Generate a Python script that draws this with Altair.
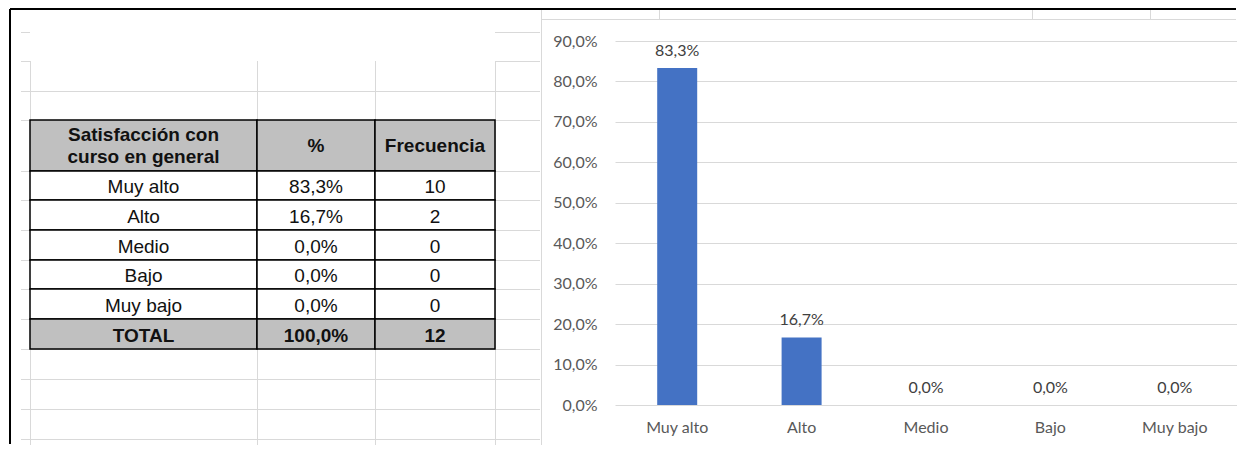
import altair as alt
import pandas as pd

# ---------------- data ----------------
categories = ["Muy alto", "Alto", "Medio", "Bajo", "Muy bajo"]
pct = [0.833, 0.167, 0.0, 0.0, 0.0]
freq = [10, 2, 0, 0, 0]
total_name = "TOTAL"
total_pct = 1.0
total_freq = 12
header = ["Satisfacción con\ncurso en general", "%", "Frecuencia"]
y_ticks = [0.0, 0.1, 0.2, 0.3, 0.4, 0.5, 0.6, 0.7, 0.8, 0.9]

# ---------------- layout (sheet coordinates, page pixels) ----------------
SHEET_X = [8, 541]
SHEET_Y = [42, 447]          # plot area of the sheet panel (aligned with chart plot top)
COL_EDGES = [30, 257, 375, 495]
ROW_EDGES = [121, 172, 201, 231, 261, 290, 320, 350]
GRID_H_PART = [33.5, 62.5]
GRID_H_FULL = [92.5, 121.5, 172.5, 201.5, 231.5, 261.5, 290.5, 320.5, 350.5, 380.5, 410.5, 440.5]
GRID_V = [30.5, 257.5, 375.5, 495.5]
GRID_COLOR = "#D9D9D9"
TABLE_FONT = "Liberation Sans"
CHART_FONT = "Lato"
LINE_H = 22


def fmt_pct(v):
    return f"{v * 100:.1f}".replace(".", ",") + "%"


# ---------------- left: spreadsheet with the table ----------------
rows_text = [header] + [[c, fmt_pct(p), str(f)] for c, p, f in zip(categories, pct, freq)] \
    + [[total_name, fmt_pct(total_pct), str(total_freq)]]
cells = []
nrows = len(rows_text)
for r, row in enumerate(rows_text):
    for c, txt in enumerate(row):
        special = r == 0 or r == nrows - 1
        nlines = txt.count("\n") + 1
        cells.append({
            "x0": COL_EDGES[c], "x1": COL_EDGES[c + 1],
            "y0": ROW_EDGES[r], "y1": ROW_EDGES[r + 1],
            "xc": (COL_EDGES[c] + COL_EDGES[c + 1]) / 2,
            "yc": (ROW_EDGES[r] + ROW_EDGES[r + 1]) / 2 + (0 if r == 0 else 1.5)
                  - (nlines - 1) * LINE_H / 2,
            "label": txt,
            "fill": "#C0C0C0" if special else "#FFFFFF",
            "bold": special,
        })
cells_df = pd.DataFrame(cells)

segs = []
for y in GRID_H_PART:
    segs.append({"x": 21, "x2": 30, "y": y, "y2": y})
    segs.append({"x": 495, "x2": 540, "y": y, "y2": y})
for y in GRID_H_FULL:
    segs.append({"x": 21, "x2": 540, "y": y, "y2": y})
for x in GRID_V:
    segs.append({"x": x, "x2": x, "y": 62, "y2": 446})
segs_df = pd.DataFrame(segs)

borders_df = pd.DataFrame([
    {"x": 10, "x2": 10, "y": 10, "y2": 445},
    {"x": 10, "x2": 541, "y": 10, "y2": 10},
])

xs = alt.Scale(domain=SHEET_X, nice=False, zero=False)
ys = alt.Scale(domain=SHEET_Y, nice=False, zero=False, reverse=True)

grid_layer = alt.Chart(segs_df).mark_rule(color=GRID_COLOR, strokeWidth=1).encode(
    x=alt.X("x:Q", scale=xs, axis=None), x2="x2:Q",
    y=alt.Y("y:Q", scale=ys, axis=None), y2="y2:Q")

border_layer = alt.Chart(borders_df).mark_rule(color="#000000", strokeWidth=2).encode(
    x=alt.X("x:Q", scale=xs, axis=None), x2="x2:Q",
    y=alt.Y("y:Q", scale=ys, axis=None), y2="y2:Q")

cell_layer = alt.Chart(cells_df).mark_rect(stroke="#000000", strokeWidth=1.5).encode(
    x=alt.X("x0:Q", scale=xs, axis=None), x2="x1:Q",
    y=alt.Y("y0:Q", scale=ys, axis=None), y2="y1:Q",
    fill=alt.Fill("fill:N", scale=None))

text_normal = alt.Chart(cells_df).transform_filter("!datum.bold").mark_text(
    font=TABLE_FONT, fontSize=19, color="#111111", baseline="middle", align="center"
).encode(x=alt.X("xc:Q", scale=xs, axis=None), y=alt.Y("yc:Q", scale=ys, axis=None), text="label:N")

text_bold = alt.Chart(cells_df).transform_filter("datum.bold").mark_text(
    font=TABLE_FONT, fontSize=19, fontWeight="bold", color="#111111", baseline="middle",
    align="center", lineBreak="\n", lineHeight=LINE_H
).encode(x=alt.X("xc:Q", scale=xs, axis=None), y=alt.Y("yc:Q", scale=ys, axis=None), text="label:N")

left = alt.layer(grid_layer, cell_layer, text_normal, text_bold, border_layer).properties(
    width=SHEET_X[1] - SHEET_X[0], height=SHEET_Y[1] - SHEET_Y[0])

# ---------------- right: Excel column chart ----------------
bars_df = pd.DataFrame({"cat": categories, "pct": pct})
PW, PH = 622, 364

xenc = alt.X("cat:N", sort=categories,
             scale=alt.Scale(paddingInner=0, paddingOuter=0),
             axis=alt.Axis(title=None, labelAngle=0, ticks=False, domain=False, grid=False,
                           labelPadding=14, labelFont=CHART_FONT, labelFontSize=16,
                           labelColor="#595959"))
yenc = alt.Y("pct:Q", scale=alt.Scale(domain=[0, 0.9], nice=False),
             axis=alt.Axis(title=None, values=y_ticks, ticks=False, domain=False,
                           labelExpr="replace(format(datum.value, '.1%'), '.', ',')",
                           labelPadding=18, labelFont=CHART_FONT, labelFontSize=16,
                           labelColor="#595959", gridColor=GRID_COLOR, gridWidth=1))

bars = alt.Chart(bars_df).mark_bar(size=40, color="#4472C4").encode(x=xenc, y=yenc)
labels = alt.Chart(bars_df).transform_calculate(
    lbl="replace(format(datum.pct, '.1%'), '.', ',')"
).mark_text(font=CHART_FONT, fontSize=16, color="#404040", baseline="alphabetic", dy=-12).encode(
    x=xenc, y=yenc, text="lbl:N")

# decorations relative to the plot origin (pixels)
deco_gray = pd.DataFrame([
    {"x": -73.5, "x2": -73.5, "y": -31, "y2": 404},
    {"x": -74, "x2": 621, "y": -21.5, "y2": -21.5},
    {"x": 44.5, "x2": 44.5, "y": -31, "y2": -22},
    {"x": 417.5, "x2": 417.5, "y": -31, "y2": -22},
    {"x": 535.5, "x2": 535.5, "y": -31, "y2": -22},
])
deco_black = pd.DataFrame([{"x": -75, "x2": 621, "y": -32, "y2": -32}])

gray_layer = alt.Chart(deco_gray).mark_rule(color=GRID_COLOR, strokeWidth=1).encode(
    x=alt.X("x:Q", scale=None, axis=None), x2="x2:Q",
    y=alt.Y("y:Q", scale=None, axis=None), y2="y2:Q")
black_layer = alt.Chart(deco_black).mark_rule(color="#000000", strokeWidth=2).encode(
    x=alt.X("x:Q", scale=None, axis=None), x2="x2:Q",
    y=alt.Y("y:Q", scale=None, axis=None), y2="y2:Q")

right = alt.layer(gray_layer, black_layer, bars, labels).properties(width=PW, height=PH)

chart = alt.hconcat(left, right, spacing=-3).properties(padding=0, background="#FFFFFF") \
    .configure_view(stroke=None)

chart.save("out.html", embed_options={"renderer": "svg", "actions": False})
